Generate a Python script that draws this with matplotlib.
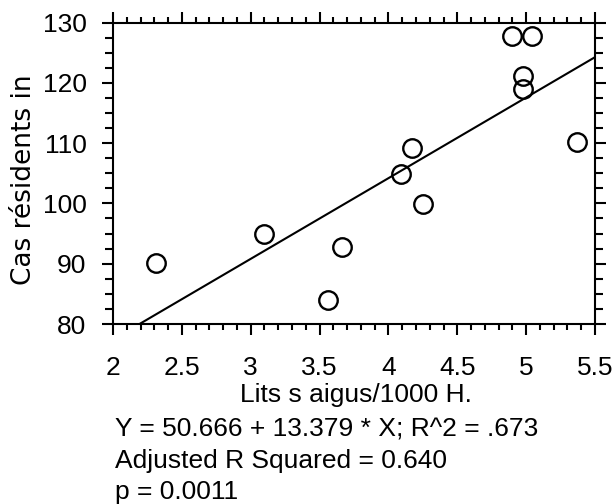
import numpy as np
import matplotlib
matplotlib.use('Agg')
import matplotlib.pyplot as plt
from matplotlib.ticker import MultipleLocator

# data
lits = [2.31, 3.10, 3.56, 3.66, 4.09, 4.17, 4.25, 4.90, 5.04, 4.98, 4.98, 5.37]
cas = [90.1, 95.0, 84.0, 92.7, 104.8, 109.2, 99.9, 127.8, 127.8, 121.2, 119.0, 110.1]
intercept = 50.666
slope = 13.379
stats_lines = ['Y = 50.666 + 13.379 * X; R^2 = .673',
               'Adjusted R Squared = 0.640',
               'p = 0.0011']

plt.rcParams['font.family'] = 'Liberation Sans'

fig = plt.figure(figsize=(6.13, 5.04), dpi=100)
ax = fig.add_axes([113/613., 1 - 324/504., 482/613., 301.5/504.])

ax.plot(lits, cas, 'o', mfc='none', mec='black', ms=13.3, mew=1.7, clip_on=False)
xl = np.array([2.0, 5.5])
ax.plot(xl, intercept + slope*xl, color='black', lw=1.5)

ax.set_xlim(2, 5.5)
ax.set_ylim(80, 130)
ax.xaxis.set_major_locator(MultipleLocator(0.5))
ax.xaxis.set_minor_locator(MultipleLocator(0.1))
ax.yaxis.set_major_locator(MultipleLocator(10))
ax.yaxis.set_minor_locator(MultipleLocator(2.5))
ax.xaxis.set_major_formatter(plt.FuncFormatter(lambda v, p: ('%g' % v)))

for s in ax.spines.values():
    s.set_linewidth(1.5)

ax.tick_params(axis='both', which='both', direction='out', width=1.5,
               top=True, right=True, labelsize=19)
ax.tick_params(axis='x', which='major', length=8, pad=15)
ax.tick_params(axis='x', which='minor', length=4)
ax.tick_params(axis='y', which='major', length=8, pad=11)
ax.tick_params(axis='y', which='minor', length=5.5)

ax.set_xlabel('Lits s aigus/1000 H.', fontsize=19, va='baseline')
ax.xaxis.set_label_coords(0.505, -0.2597)
ax.set_ylabel('Cas résidents in', fontsize=19, fontfamily='DejaVu Sans', va='center')
ax.yaxis.set_label_coords(-0.1846, 0.4776)

ybase = [436.7, 468.0, 499.5]
for txt, yb in zip(stats_lines, ybase):
    fig.text(115/613., 1 - yb/504., txt, fontsize=19, va='baseline', ha='left')

fig.savefig('out.png', dpi=100)
